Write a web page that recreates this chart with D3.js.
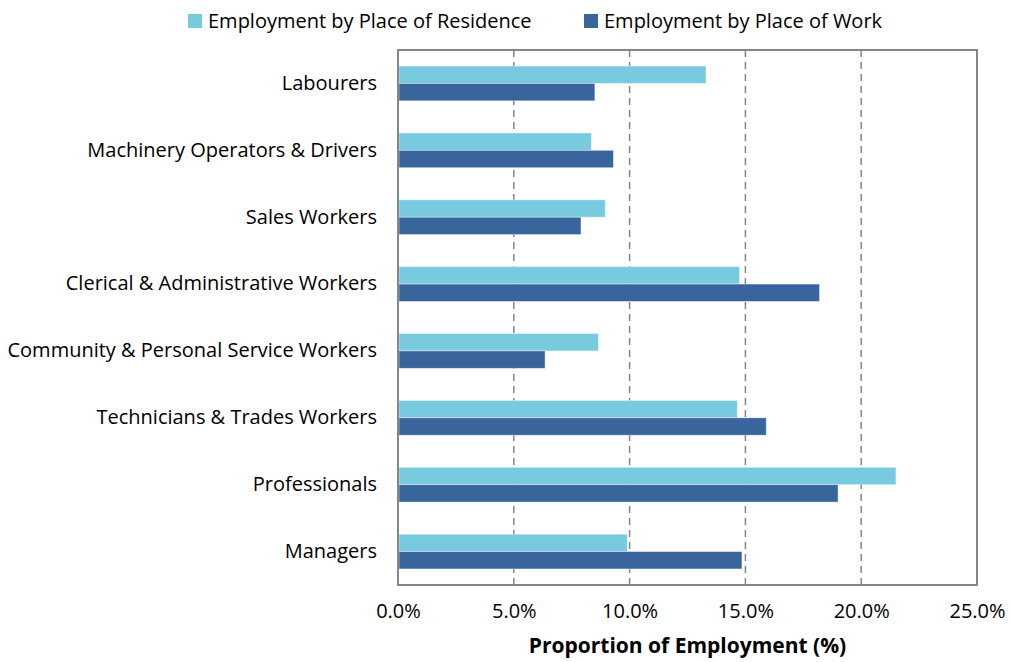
<!DOCTYPE html>
<html><head><meta charset="utf-8">
<script src="https://cdn.jsdelivr.net/npm/d3@7"></script>
<style>body{margin:0;background:#fff}svg{display:block}text{font-family:"Open Sans",sans-serif;fill:#000}</style>
</head><body><svg id="c" width="1011" height="662"></svg>
<script>
const categories = ["Labourers","Machinery Operators & Drivers","Sales Workers","Clerical & Administrative Workers","Community & Personal Service Workers","Technicians & Trades Workers","Professionals","Managers"];
const seriesNames = ["Employment by Place of Residence","Employment by Place of Work"];
const residence = [13.3, 8.35, 8.95, 14.75, 8.65, 14.65, 21.5, 9.9];
const work = [8.5, 9.3, 7.9, 18.2, 6.35, 15.9, 19.0, 14.85];
const tickValues = [0,5,10,15,20,25];
const colors = ["#78CBDF","#39649C"];

const svg = d3.select("#c");
const m = {l:398, r:977, t:50, b:585};
const x = d3.scaleLinear().domain([0,25]).range([m.l, m.r]);
const y = d3.scaleBand().domain(categories).range([m.t, m.b]).paddingInner(0.48).paddingOuter(0.24);
const y1 = d3.scaleBand().domain([0,1]).range([0, y.bandwidth()]);

// gridlines
svg.append("g").selectAll("line").data(tickValues.filter(v=>v>0&&v<25)).join("line")
  .attr("x1",d=>x(d)).attr("x2",d=>x(d)).attr("y1",m.t).attr("y2",m.b)
  .attr("stroke","#868686").attr("stroke-width",1.5).attr("stroke-dasharray","7,5");

// bars
const g = svg.append("g").selectAll("g").data(categories).join("g")
  .attr("transform",d=>`translate(0,${y(d)})`);
g.selectAll("rect").data((d,i)=>[residence[i],work[i]]).join("rect")
  .attr("x",x(0)+1).attr("y",(d,j)=>y1(j)).attr("height",y1.bandwidth())
  .attr("width",d=>x(d)-x(0)-1).attr("fill",(d,j)=>colors[j])
  .attr("stroke","#ffffff").attr("stroke-opacity",0.5).attr("stroke-width",0.8);

// frame
svg.append("rect").attr("x",m.l).attr("y",m.t).attr("width",m.r-m.l).attr("height",m.b-m.t)
  .attr("fill","none").attr("stroke","#868686").attr("stroke-width",2);

const FS = 20;
// x axis
const xa = svg.append("g").attr("transform",`translate(0,${m.b})`)
  .call(d3.axisBottom(x).tickValues(tickValues).tickFormat(d=>d3.format(".1f")(d)+"%").tickSize(0).tickPadding(19));
xa.select(".domain").remove();
xa.selectAll("text").attr("font-size",FS).style("font-family","'Open Sans', sans-serif");

// y axis labels
const ya = svg.append("g").attr("transform",`translate(${m.l},0)`)
  .call(d3.axisLeft(y).tickSize(0).tickPadding(21));
ya.select(".domain").remove();
ya.selectAll("text").attr("font-size",FS).style("font-family","'Open Sans', sans-serif");

// axis title
svg.append("text").attr("x",(m.l+m.r)/2).attr("y",653).attr("text-anchor","middle")
  .attr("font-size",21).attr("font-weight","bold").text("Proportion of Employment (%)");

// legend
const legX = [188, 584];
const lg = svg.append("g").selectAll("g").data(seriesNames).join("g")
  .attr("transform",(d,i)=>`translate(${legX[i]},14)`);
lg.append("rect").attr("width",14).attr("height",14).attr("fill",(d,i)=>colors[i]);
lg.append("text").attr("x",20).attr("y",14).attr("font-size",FS).text(d=>d);
</script></body></html>
